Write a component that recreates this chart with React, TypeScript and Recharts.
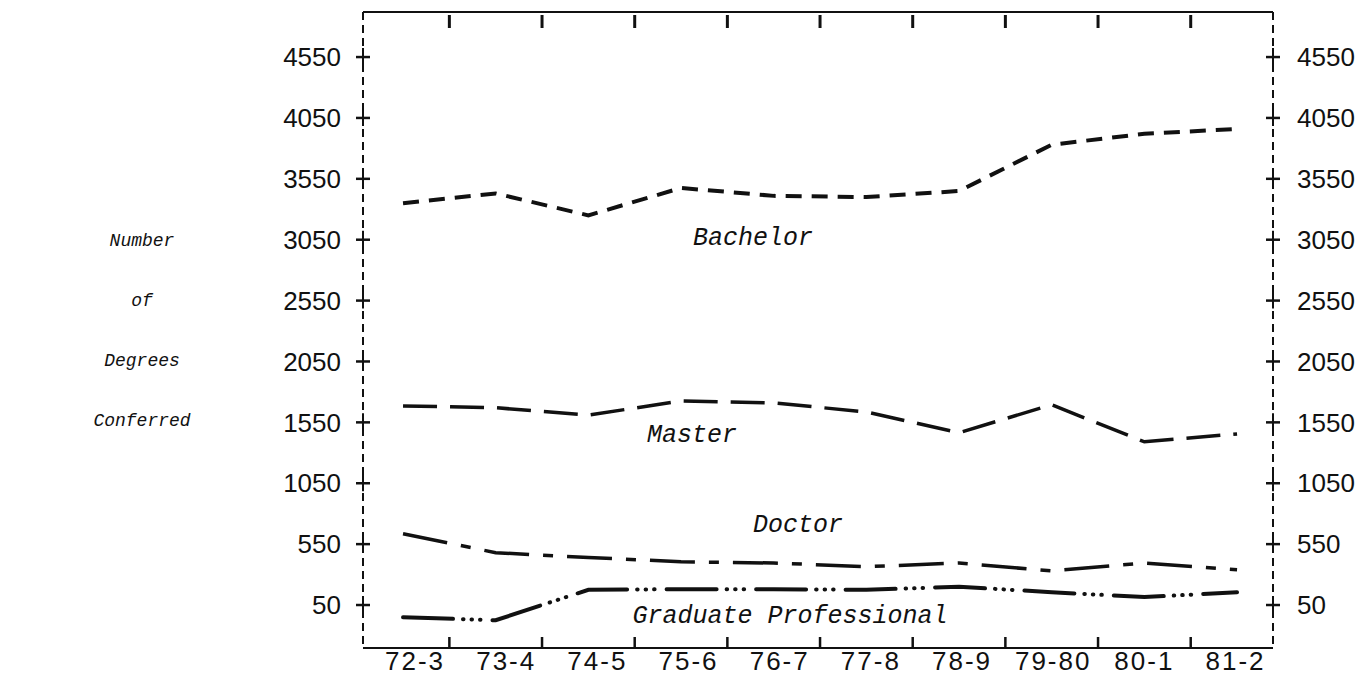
import { LineChart, Line, XAxis, YAxis } from 'recharts'

// academic years on the category axis
const years = ['72-3', '73-4', '74-5', '75-6', '76-7', '77-8', '78-9', '79-80', '80-1', '81-2']

// degrees conferred
const bachelor = [3350, 3430, 3250, 3475, 3410, 3400, 3450, 3830, 3920, 3960]
const master = [1685, 1670, 1610, 1725, 1710, 1635, 1465, 1695, 1390, 1455]
const doctor = [635, 480, 440, 405, 395, 365, 395, 330, 395, 340]
const gradProf = [-50, -75, 175, 180, 180, 175, 200, 155, 115, 155]

const yTicks = [50, 550, 1050, 1550, 2050, 2550, 3050, 3550, 4050, 4550]
const yDomain: [number, number] = [-303, 4920]
const xDomain: [number, number] = [-0.432, 9.388]

const leftLabel = ['Number', 'of', 'Degrees', 'Conferred']

const data = years.map((year, i) => ({
  idx: i,
  year,
  bachelor: bachelor[i],
  master: master[i],
  doctor: doctor[i],
  gradProf: gradProf[i],
}))

const centers = years.map((_, i) => i)
const bounds = years.slice(1).map((_, i) => i + 0.5)

const INK = '#111'
const NUM_FONT = '"Liberation Sans", Arial, sans-serif'
const TYPE_FONT = '"Liberation Mono", "Courier New", monospace'

function BottomTick(props: any) {
  const { x, y, payload } = props
  const v = payload.value
  if (Number.isInteger(v)) {
    // typed labels drift slightly left of the plotted points
    const nudge = 12 - v * 1.5
    return (
      <text x={x + nudge} y={y + 13} dy="0.355em" textAnchor="middle" fill={INK}
        fontFamily={NUM_FONT} fontSize={26} letterSpacing={2}>
        {years[v]}
      </text>
    )
  }
  return <line x1={x} x2={x} y1={y} y2={y - 11} stroke={INK} strokeWidth={2.5} />
}

function TopTick(props: any) {
  const { x, y } = props
  return <line x1={x} x2={x} y1={y + 3} y2={y + 16} stroke={INK} strokeWidth={3} />
}

function YTick(props: any) {
  const { x, y, payload, side } = props
  const left = side === 'left'
  return (
    <g>
      <line x1={x - 7} x2={x + 7} y1={y} y2={y} stroke={INK} strokeWidth={2.5} />
      <line x1={x} x2={x} y1={y - 9} y2={y + 8} stroke={INK} strokeWidth={2} />
      <text x={left ? x - 22 : x + 24} y={y} dy="0.355em" textAnchor={left ? 'end' : 'start'}
        fill={INK} fontFamily={NUM_FONT} fontSize={26}>
        {payload.value}
      </text>
    </g>
  )
}

const seriesLabels = [
  { text: 'Bachelor', x: 753, y: 238 },
  { text: 'Master', x: 692, y: 435 },
  { text: 'Doctor', x: 798, y: 525 },
  { text: 'Graduate Professional', x: 790, y: 616 },
]

export default function App() {
  return (
    <div style={{ position: 'fixed', left: 0, top: 0, width: 1359, height: 676, background: '#fff' }}>
      <LineChart width={1359} height={676} data={data} margin={{ top: 0, right: 0, bottom: 0, left: 0 }}>
        <XAxis
          xAxisId="top"
          orientation="top"
          dataKey="idx"
          type="number"
          domain={xDomain}
          allowDataOverflow
          ticks={bounds}
          interval={0}
          height={12}
          tickLine={false}
          tickSize={0}
          tickMargin={0}
          axisLine={{ stroke: INK, strokeWidth: 2 }}
          tick={<TopTick />}
        />
        <XAxis
          xAxisId="bottom"
          dataKey="idx"
          type="number"
          domain={xDomain}
          allowDataOverflow
          ticks={[...centers, ...bounds].sort((a, b) => a - b)}
          interval={0}
          height={28}
          tickLine={false}
          tickSize={0}
          tickMargin={0}
          axisLine={{ stroke: INK, strokeWidth: 2 }}
          tick={<BottomTick />}
        />
        <YAxis
          yAxisId="left"
          domain={yDomain}
          allowDataOverflow
          ticks={yTicks}
          interval={0}
          width={363}
          tickLine={false}
          tickSize={0}
          tickMargin={0}
          axisLine={{ stroke: INK, strokeWidth: 2, strokeDasharray: '8 5' }}
          tick={<YTick side="left" />}
        />
        <YAxis
          yAxisId="right"
          orientation="right"
          domain={yDomain}
          allowDataOverflow
          ticks={yTicks}
          interval={0}
          width={86}
          tickLine={false}
          tickSize={0}
          tickMargin={0}
          axisLine={{ stroke: INK, strokeWidth: 2, strokeDasharray: '8 5' }}
          tick={<YTick side="right" />}
        />
        <Line xAxisId="bottom" yAxisId="left" type="linear" dataKey="bachelor" stroke={INK}
          strokeWidth={4} strokeDasharray="16 10" dot={false} isAnimationActive={false} />
        <Line xAxisId="bottom" yAxisId="left" type="linear" dataKey="master" stroke={INK}
          strokeWidth={3.5} strokeDasharray="34 13" dot={false} isAnimationActive={false} />
        <Line xAxisId="bottom" yAxisId="left" type="linear" dataKey="doctor" stroke={INK}
          strokeWidth={3.5} strokeDasharray="45 14 10 14" dot={false} isAnimationActive={false} />
        <Line xAxisId="bottom" yAxisId="left" type="linear" dataKey="gradProf" stroke={INK}
          strokeWidth={4} strokeLinecap="round" strokeDasharray="50 10 0.5 8 0.5 8 0.5 12"
          dot={false} isAnimationActive={false} />
      </LineChart>

      {leftLabel.map((t, i) => (
        <div key={t} style={{
          position: 'absolute', left: 142, top: 241 + i * 60, transform: 'translate(-50%, -50%)',
          fontFamily: TYPE_FONT, fontStyle: 'italic', fontSize: 18, color: INK, whiteSpace: 'nowrap',
        }}>{t}</div>
      ))}
      {seriesLabels.map(l => (
        <div key={l.text} style={{
          position: 'absolute', left: l.x, top: l.y, transform: 'translate(-50%, -50%)',
          fontFamily: TYPE_FONT, fontStyle: 'italic', fontSize: 25, color: INK, whiteSpace: 'nowrap',
        }}>{l.text}</div>
      ))}
    </div>
  )
}
